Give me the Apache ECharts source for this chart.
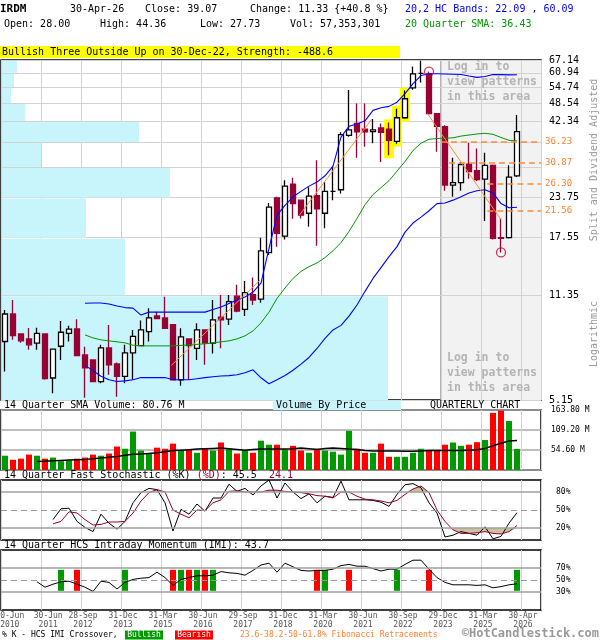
<!DOCTYPE html>
<html><head><meta charset="utf-8">
<script src="https://cdn.jsdelivr.net/npm/echarts@6/dist/echarts.min.js"></script>
<style>html,body{margin:0;padding:0;background:#fff}#c{width:600px;height:640px}</style>
</head><body><div id="c"></div>
<script>
// ---------- DATA (quarterly, 30-Jun-2010 .. 30-Apr-2026) ----------
const opens  = [8.01,9.86,8.48,8.17,7.91,8.48,6.08,7.73,8.52,8.81,7.24,6.97,5.92,7.63,6.76,6.16,7.35,7.77,8.63,9.72,9.57,9.10,6.00,8.17,7.61,8.74,7.91,9.62,9.48,11.28,10.21,11.41,11.04,15.68,23.70,17.75,26.30,23.30,21.10,24.10,21.10,24.90,25.20,38.00,41.60,39.80,39.10,40.20,39.80,36.30,43.40,54.40,60.70,60.50,44.80,40.60,26.10,26.60,30.60,29.10,27.30,30.30,17.55,17.55,28.00];
const highs  = [10.16,10.96,8.52,8.87,8.89,8.52,7.60,9.36,9.03,9.48,7.70,7.00,7.81,9.08,6.83,7.81,8.74,9.38,10.29,10.03,11.24,9.12,8.85,8.20,9.20,8.76,10.96,11.38,11.38,12.30,12.64,13.00,17.55,22.80,23.90,27.10,27.60,23.40,25.70,31.50,26.70,30.00,38.90,53.50,48.30,48.30,43.00,41.60,41.90,46.50,53.30,63.90,66.70,61.50,45.00,41.00,32.10,31.00,35.90,34.40,33.30,30.50,20.30,30.30,44.36];
const lows   = [6.39,8.11,7.93,7.52,7.52,6.00,5.42,6.97,8.01,7.18,5.24,5.90,5.85,6.23,5.28,5.85,6.00,7.75,8.01,9.50,8.83,5.98,5.73,6.00,6.97,6.72,7.32,7.61,9.08,10.00,9.72,10.55,10.74,15.40,16.40,17.30,20.25,20.30,19.10,16.50,18.85,23.30,24.50,37.60,32.10,34.90,35.80,31.10,32.70,35.70,43.10,53.60,56.70,44.50,33.60,25.00,23.90,25.00,27.40,26.90,19.90,17.30,15.70,17.45,27.73];
const closes = [9.86,8.37,8.05,7.81,8.52,6.05,7.56,8.59,8.79,7.20,6.56,5.92,7.63,6.72,6.16,7.35,8.33,8.74,9.57,9.52,8.85,6.00,8.29,7.77,8.74,7.91,9.43,9.43,10.82,10.08,11.58,10.96,15.88,22.10,18.14,25.90,22.70,20.80,24.00,21.80,24.90,24.90,38.20,39.60,39.00,39.00,39.60,38.90,36.60,43.40,50.10,60.50,60.70,44.80,40.70,26.10,26.60,30.50,28.90,27.20,30.30,17.45,17.45,27.74,39.07];
const volumes = [39,28,31,42,39,31,34,24,26,31,34,42,39,45,64,58,105,53,47,61,58,72,53,56,47,58,53,75,58,45,53,47,80,69,69,56,66,53,47,58,53,50,42,107,58,47,47,72,36,36,36,47,58,53,53,69,75,66,69,76,82,156,162,134,57.35];
const volSmaStart = 4;
const volSma = [23,24,25,26,27,28,29,31,33,35,37,40,43,44,45,47,50,53,54,55,57,58,59,60,58,56,54,56,57,57,57,57,58,60,58,56,59,60,59,57,56,53,52,52,52,52,51,51,52,53,53,53,53,53,54,55,59,66,73,79,80.76];
const bandStart = 10;
const bbUpper = [10.69,10.71,10.72,10.63,10.47,10.35,10.31,9.78,10.0,10.0,10.0,10.0,10.0,10.0,10.0,10.0,10.2,10.4,10.68,10.96,11.21,11.64,12.45,16.2,20.8,22.4,23.9,24.9,25.9,26.7,28.0,30.1,37.5,40.7,41.4,42.4,45.9,46.8,47.3,48.8,52.1,56.2,59.7,60.5,60.5,60.4,60.3,60.2,59.5,58.9,59.3,60.2,60.1,60.0,60.09];
const bbLower = [6.69,6.43,6.16,6.0,5.92,5.95,6.0,6.10,6.10,6.10,6.10,6.0,6.0,6.0,6.05,6.10,6.14,6.17,6.19,6.23,6.33,6.47,6.09,5.82,6.0,6.2,6.45,6.75,7.1,7.6,8.2,8.74,9.05,9.7,10.55,11.7,12.9,14.0,15.2,16.4,18.3,19.6,20.5,21.5,22.7,22.8,23.3,23.9,24.6,25.0,25.2,24.6,22.7,22.0,22.09];
const sma20 = [8.42,8.23,8.11,8.05,7.99,7.93,7.79,7.75,7.75,7.75,7.75,7.75,7.78,7.81,7.84,7.87,7.93,7.99,8.05,8.17,8.36,8.68,9.22,10.0,11.1,12.0,12.9,13.6,14.1,14.5,15.1,15.9,16.9,18.4,20.3,22.5,24.3,25.6,27.0,29.0,31.2,33.9,35.8,36.9,37.1,37.2,37.3,37.8,38.1,38.4,38.6,38.3,37.4,36.6,36.43];
const stochStart = 6;
const stochK = [34,52,53,31,21,14,43,28,18,31,62,79,86,84,62,15,51,43,60,48,70,70,93,81,86,75,90,100,70,95,80,69,77,62,73,71,98,67,67,67,66,63,56,76,92,94,87,62,45,5,8,14,11,8,22,2,6,28,45.5];
const stochD = [27,31,47,45,34,25,26,30,30,31,45,65,79,84,80,50,43,37,50,49,62,67,81,82,80,80,80,83,83,81,80,79,77,74,73,70,80,80,73,68,67,65,62,66,76,85,90,79,50,31,17,11,11,12,14,11,10,14,24.1];
const imiStart = 4;
const imi = [47,38,43,47,48,43,38,31,48,46,35,46,51,53,54,63,54,41,51,54,57,57,58,64,62,61,58,66,75,78,63,78,72,66,65,66,66,68,74,76,73,73,69,65,68,68,76,83,83,68,54,46,42,42,42,41,42,37,39,42,43.7];
const imiBullish = [7,15,22,24,26,40,49,64];
const imiBearish = [9,21,23,25,39,43,53];
const vbpLevels = [67.14,60.94,54.74,48.54,42.34,36.14,29.94,23.75,17.55,11.35,5.15];
const vbpVolume = [16,13,10,24,138,40,169,85,124,387];
const priceLabels = [67.14,60.94,54.74,48.54,42.34,23.75,17.55,11.35,5.15];
const fibLevels = [36.23,30.87,26.30,21.56];
const fibStart = [55,56,60.8,60.8];
const trendLines = [
  [[21.3,6.69],[32.4,12.74]],
  [[37.3,20.8],[46.3,42.8]],
  [[53.3,44.8],[62.5,20.1]]
];
const highlightIdx = [48,49,50];
const circleHigh = [53];
const circleLow = [62];
const patternZoneStart = 55;
const xTickLabels = ['30-Jun\n2010','30-Jun\n2011','28-Sep\n2012','31-Dec\n2013','31-Mar\n2015','30-Jun\n2016','29-Sep\n2017','31-Dec\n2018','31-Mar\n2020','30-Jun\n2021','30-Sep\n2022','29-Dec\n2023','31-Mar\n2025','30-Apr\n2026'];

// ---------- CHART ----------
const mono = "'DejaVu Sans Mono', monospace";
const xs = i => i + 0.5;
const XMAX = 67.5;
const chart = echarts.init(document.getElementById('c'), null, {renderer:'canvas'});

const gridBase = {left:1, width:540, show:true, borderColor:'#000', borderWidth:1.5, backgroundColor:'transparent', containLabel:false, outerBoundsMode:'none'};
const grids = [
  Object.assign({top:60, height:340}, gridBase),
  Object.assign({top:410, height:60}, gridBase),
  Object.assign({top:480, height:60}, gridBase),
  Object.assign({top:550, height:60}, gridBase)
];
function xAx(gi, extra){
  return Object.assign({type:'value', gridIndex:gi, min:0, max:XMAX, interval:5,
    axisLine:{show:false}, axisTick:{show:false}, axisLabel:{show:false},
    splitLine:{show:true, lineStyle:{color:'#d2d2d2', width:1}}, z:1}, extra||{});
}
// label anchor on the axis: each label sits just right of its 5-quarter gridline
const xLabelAt = xTickLabels.map((_, k) => k === 0 ? 1.1 : (k === 1 ? 5.9 : 5 * k + 0.25));
const xAxes = [
  xAx(0),
  {type:'value', gridIndex:0, min:0, max:540, show:false},
  xAx(1), xAx(2),
  xAx(3, {axisLabel:{show:true, customValues:xLabelAt, fontSize:8, lineHeight:9, color:'#555', fontFamily:mono, margin:1,
      showMinLabel:true, showMaxLabel:true, hideOverlap:false,
      formatter:v => xTickLabels[Math.round(v/5)] || ''}})
];
const yAxes = [
  {type:'log', gridIndex:0, min:5.15, max:67.14, position:'right', z:1,
   axisLine:{show:false}, axisTick:{show:false, customValues:vbpLevels},
   axisLabel:{customValues:priceLabels, formatter:v=>Number(v).toFixed(2), fontSize:10, color:'#000', fontFamily:mono, margin:8},
   splitLine:{show:true, lineStyle:{color:'#d2d2d2', width:1}}},
  {type:'value', gridIndex:1, min:0, max:163.8, interval:54.6, position:'right', z:1,
   axisLine:{show:false}, axisTick:{show:false},
   axisLabel:{formatter:v=> v<1 ? '' : Number(v).toFixed(2)+' M', fontSize:8, color:'#000', fontFamily:mono, margin:10},
   splitLine:{show:true, lineStyle:{color:'#a8a8a8', width:1.5}}},
  {type:'value', gridIndex:2, min:0, max:100, interval:10, position:'right',
   axisLine:{show:false}, axisTick:{show:false}, splitLine:{show:false},
   axisLabel:{formatter:v=>[20,50,80].includes(v)? v+'%':'', fontSize:8, color:'#000', fontFamily:mono, margin:15}},
  {type:'value', gridIndex:3, min:0, max:100, interval:10, position:'right',
   axisLine:{show:false}, axisTick:{show:false}, splitLine:{show:false},
   axisLabel:{formatter:v=>[30,50,70].includes(v)? v+'%':'', fontSize:8, color:'#000', fontFamily:mono, margin:15}}
];

const series = [];
// gray "log in" zone
series.push({type:'custom', xAxisIndex:0, yAxisIndex:0, z:0, silent:true,
  data:[[patternZoneStart, 67.14, XMAX, 5.15]], encode:{x:[0,2], y:[1,3]},
  renderItem:(p, api)=>{
    const a = api.coord([api.value(0), api.value(1)]);
    const b = api.coord([api.value(2), api.value(3)]);
    return {type:'group', children:[
      {type:'rect', shape:{x:a[0], y:a[1], width:b[0]-a[0], height:b[1]-a[1]}, style:{fill:'#f2f2f2'}},
      {type:'line', shape:{x1:a[0], y1:a[1], x2:a[0], y2:b[1]}, style:{stroke:'#9a9a9a', lineWidth:1.5}}
    ]};
  }});
// volume by price
series.push({type:'custom', xAxisIndex:1, yAxisIndex:0, z:2, silent:true,
  data: vbpVolume.map((v,k)=>[v, vbpLevels[k], vbpLevels[k+1]]), encode:{x:0, y:[1,2]},
  renderItem:(p, api)=>{
    const a = api.coord([0, api.value(1)]);
    const b = api.coord([api.value(0), api.value(2)]);
    return {type:'rect', shape:{x:a[0]+1, y:a[1]+1, width:b[0]-a[0]-1, height:b[1]-a[1]-1}, style:{fill:'#c8f4fb'}};
  }});
// yellow pattern highlight
series.push({type:'custom', xAxisIndex:0, yAxisIndex:0, z:2, silent:true,
  data: highlightIdx.map(i=>[xs(i), highs[i], lows[i]]), encode:{x:0, y:[1,2]},
  renderItem:(p, api)=>{
    const a = api.coord([api.value(0), api.value(1)]);
    const b = api.coord([api.value(0), api.value(2)]);
    return {type:'rect', shape:{x:a[0]-5, y:a[1]-3, width:10, height:b[1]-a[1]+6}, style:{fill:'#ffff00'}};
  }});
// candles
series.push({type:'candlestick', xAxisIndex:0, yAxisIndex:0, z:3, barWidth:6, silent:true,
  data: opens.map((o,i)=>[xs(i), o, closes[i], lows[i], highs[i]]), encode:{x:0, y:[1,2,3,4]},
  itemStyle:{color:'#ffffff', color0:'#990033', borderColor:'#000000', borderColor0:'#990033', borderColorDoji:'#000000', borderWidth:1.3}});
// 20 SMA with fib lines
series.push({type:'line', xAxisIndex:0, yAxisIndex:0, z:4, silent:true, symbol:'none',
  data: sma20.map((v,k)=>[xs(k+bandStart), v]), lineStyle:{color:'#009900', width:1},
  markLine:{silent:true, symbol:['none','none'], animation:false,
    lineStyle:{color:'#ff8c3a', type:[6,4], width:1.5},
    label:{show:true, position:'end', distance:4, color:'#ff8030', fontSize:9, fontFamily:mono,
      formatter:p=>fibLevels[p.dataIndex].toFixed(2)},
    data: fibLevels.map((lv,k)=>[{coord:[fibStart[k], lv]},{coord:[XMAX, lv]}])}});
series.push({type:'line', xAxisIndex:0, yAxisIndex:0, z:4, silent:true, symbol:'none',
  data: bbUpper.map((v,k)=>[xs(k+bandStart), v]), lineStyle:{color:'#0000ff', width:1.1}});
series.push({type:'line', xAxisIndex:0, yAxisIndex:0, z:4, silent:true, symbol:'none',
  data: bbLower.map((v,k)=>[xs(k+bandStart), v]), lineStyle:{color:'#0000ff', width:1.1}});
trendLines.forEach(t=>series.push({type:'line', xAxisIndex:0, yAxisIndex:0, z:4, silent:true, symbol:'none',
  data:t, lineStyle:{color:'#ff8c3a', width:1}}));
series.push({type:'scatter', xAxisIndex:0, yAxisIndex:0, z:5, silent:true, symbol:'circle', symbolSize:9,
  data: circleHigh.map(i=>[xs(i), highs[i]]).concat(circleLow.map(i=>[xs(i), lows[i]])),
  itemStyle:{color:'rgba(0,0,0,0)', borderColor:'#cc0033', borderWidth:1.3}});
// volume
series.push({type:'bar', xAxisIndex:2, yAxisIndex:1, z:3, silent:true, barWidth:6,
  data: volumes.map((v,i)=>({value:[xs(i), v], itemStyle:{color: closes[i]>=opens[i] ? '#009900' : '#ff0000'}}))});
series.push({type:'line', xAxisIndex:2, yAxisIndex:1, z:4, silent:true, symbol:'none',
  data: volSma.map((v,k)=>[xs(k+volSmaStart), v]), lineStyle:{color:'#000', width:1.5}});
// stochastic
series.push({type:'line', xAxisIndex:3, yAxisIndex:2, z:2, silent:true, symbol:'none',
  data: stochD.map((d,k)=>[xs(k+stochStart), Math.max(d,80)]), lineStyle:{width:0},
  areaStyle:{color:'#c9c29e', opacity:1, origin:80}});
series.push({type:'line', xAxisIndex:3, yAxisIndex:2, z:2, silent:true, symbol:'none',
  data: stochD.map((d,k)=>[xs(k+stochStart), Math.min(d,20)]), lineStyle:{width:0},
  areaStyle:{color:'#c9c29e', opacity:1, origin:20}});
series.push({type:'line', xAxisIndex:3, yAxisIndex:2, z:4, silent:true, symbol:'none',
  data: stochK.map((v,k)=>[xs(k+stochStart), v]), lineStyle:{color:'#000', width:1},
  markLine:{silent:true, symbol:['none','none'], label:{show:false}, animation:false,
    lineStyle:{color:'#a0a0a0', width:1.5, type:'solid'},
    data:[{yAxis:80},{yAxis:20},{yAxis:50, lineStyle:{type:[6,4], width:1, color:'#999'}}]}});
series.push({type:'line', xAxisIndex:3, yAxisIndex:2, z:4, silent:true, symbol:'none',
  data: stochD.map((v,k)=>[xs(k+stochStart), v]), lineStyle:{color:'#990033', width:1}});
// IMI
series.push({type:'custom', xAxisIndex:4, yAxisIndex:3, z:3, silent:true,
  data: imiBullish.map(i=>[xs(i), 32, 67, 1]).concat(imiBearish.map(i=>[xs(i), 32, 67, 0])), encode:{x:0, y:[1,2]},
  renderItem:(p, api)=>{
    const a = api.coord([api.value(0), api.value(2)]);
    const b = api.coord([api.value(0), api.value(1)]);
    return {type:'rect', shape:{x:a[0]-3, y:a[1], width:6, height:b[1]-a[1]}, style:{fill: api.value(3) ? '#009900' : '#ff0000'}};
  }});
series.push({type:'line', xAxisIndex:4, yAxisIndex:3, z:4, silent:true, symbol:'none',
  data: imi.map((v,k)=>[xs(k+imiStart), v]), lineStyle:{color:'#000', width:1},
  markLine:{silent:true, symbol:['none','none'], label:{show:false}, animation:false,
    lineStyle:{color:'#a0a0a0', width:1.5, type:'solid'},
    data:[{yAxis:70},{yAxis:30},{yAxis:50, lineStyle:{type:[6,4], width:1, color:'#999'}}]}});

// ---------- TEXT ----------
function T(text, x, y, opt){
  opt = opt||{};
  return {type:'text', silent:true, z:100, x:x, y:y, rotation:opt.rot||0,
    style:Object.assign({text:text, fill:opt.fill||'#000', font:(opt.font||'10px')+' '+mono,
      align:opt.align||'left', verticalAlign:'middle'}, opt.style||{})};
}
const g = [
  T('IRDM', 0, 9, {font:'bold 11px'}),
  T('30-Apr-26', 70, 9), T('Close: 39.07', 145, 9), T('Change: 11.33 {+40.8 %}', 250, 9),
  T('20,2 HC Bands: 22.09 , 60.09', 405, 9, {fill:'#0000ff'}),
  T('Open: 28.00', 4, 24), T('High: 44.36', 100, 24), T('Low: 27.73', 200, 24), T('Vol: 57,353,301', 290, 24),
  T('20 Quarter SMA: 36.43', 405, 24, {fill:'#009900'}),
  {type:'rect', silent:true, z:99, shape:{x:0, y:46, width:400, height:12}, style:{fill:'#ffff00'}},
  T('Bullish Three Outside Up on 30-Dec-22, Strength: -488.6', 2, 52),
  T('Log in to', 447, 67, {font:'bold 11.5px', fill:'#b4b4b4'}),
  T('view patterns', 447, 82, {font:'bold 11.5px', fill:'#b4b4b4'}),
  T('in this area', 447, 97, {font:'bold 11.5px', fill:'#b4b4b4'}),
  T('Log in to', 447, 358, {font:'bold 11.5px', fill:'#b4b4b4'}),
  T('view patterns', 447, 373, {font:'bold 11.5px', fill:'#b4b4b4'}),
  T('in this area', 447, 388, {font:'bold 11.5px', fill:'#b4b4b4'}),
  T('Split and Dividend Adjusted', 594, 160, {align:'center', rot:Math.PI/2, fill:'#999'}),
  T('Logarithmic', 594, 334, {align:'center', rot:Math.PI/2, fill:'#999'}),
  T('14 Quarter SMA Volume: 80.76 M', 4, 405),
  {type:'rect', silent:true, z:99, shape:{x:273, y:400.5, width:128, height:9.5}, style:{fill:'#c8f4fb'}},
  T('Volume By Price', 276, 405),
  T('QUARTERLY CHART', 430, 405),
  {type:'text', silent:true, z:100, x:4, y:475, style:{text:'14 Quarter Fast Stochastic (%K) {d|(%D)}: 45.5  {d|24.1}',
    font:'10px '+mono, fill:'#000', verticalAlign:'middle', rich:{d:{fill:'#990033', font:'10px '+mono}}}},
  T('14 Quarter HCS Intraday Momentum (IMI): 43.7', 4, 545),
  T('% K - HCS IMI Crossover,', 2, 635, {font:'8px'}),
  {type:'rect', silent:true, z:99, shape:{x:125, y:630.5, width:38, height:9}, style:{fill:'#009900'}},
  T('Bullish', 144, 635, {font:'8px', fill:'#fff', align:'center'}),
  {type:'rect', silent:true, z:99, shape:{x:175, y:630.5, width:38, height:9}, style:{fill:'#ff0000'}},
  T('Bearish', 194, 635, {font:'8px', fill:'#fff', align:'center'}),
  T('23.6-38.2-50-61.8% Fibonacci Retracements', 240, 635, {font:'8px', fill:'#ff8030'}),
  T('\u00a9HotCandlestick.com', 599, 634, {font:'bold 12px', fill:'#999', align:'right'})
];

chart.setOption({
  animation:false,
  backgroundColor:'#ffffff',
  grid:grids, xAxis:xAxes, yAxis:yAxes, series:series,
  graphic:{elements:g}
});
</script>
</body></html>
